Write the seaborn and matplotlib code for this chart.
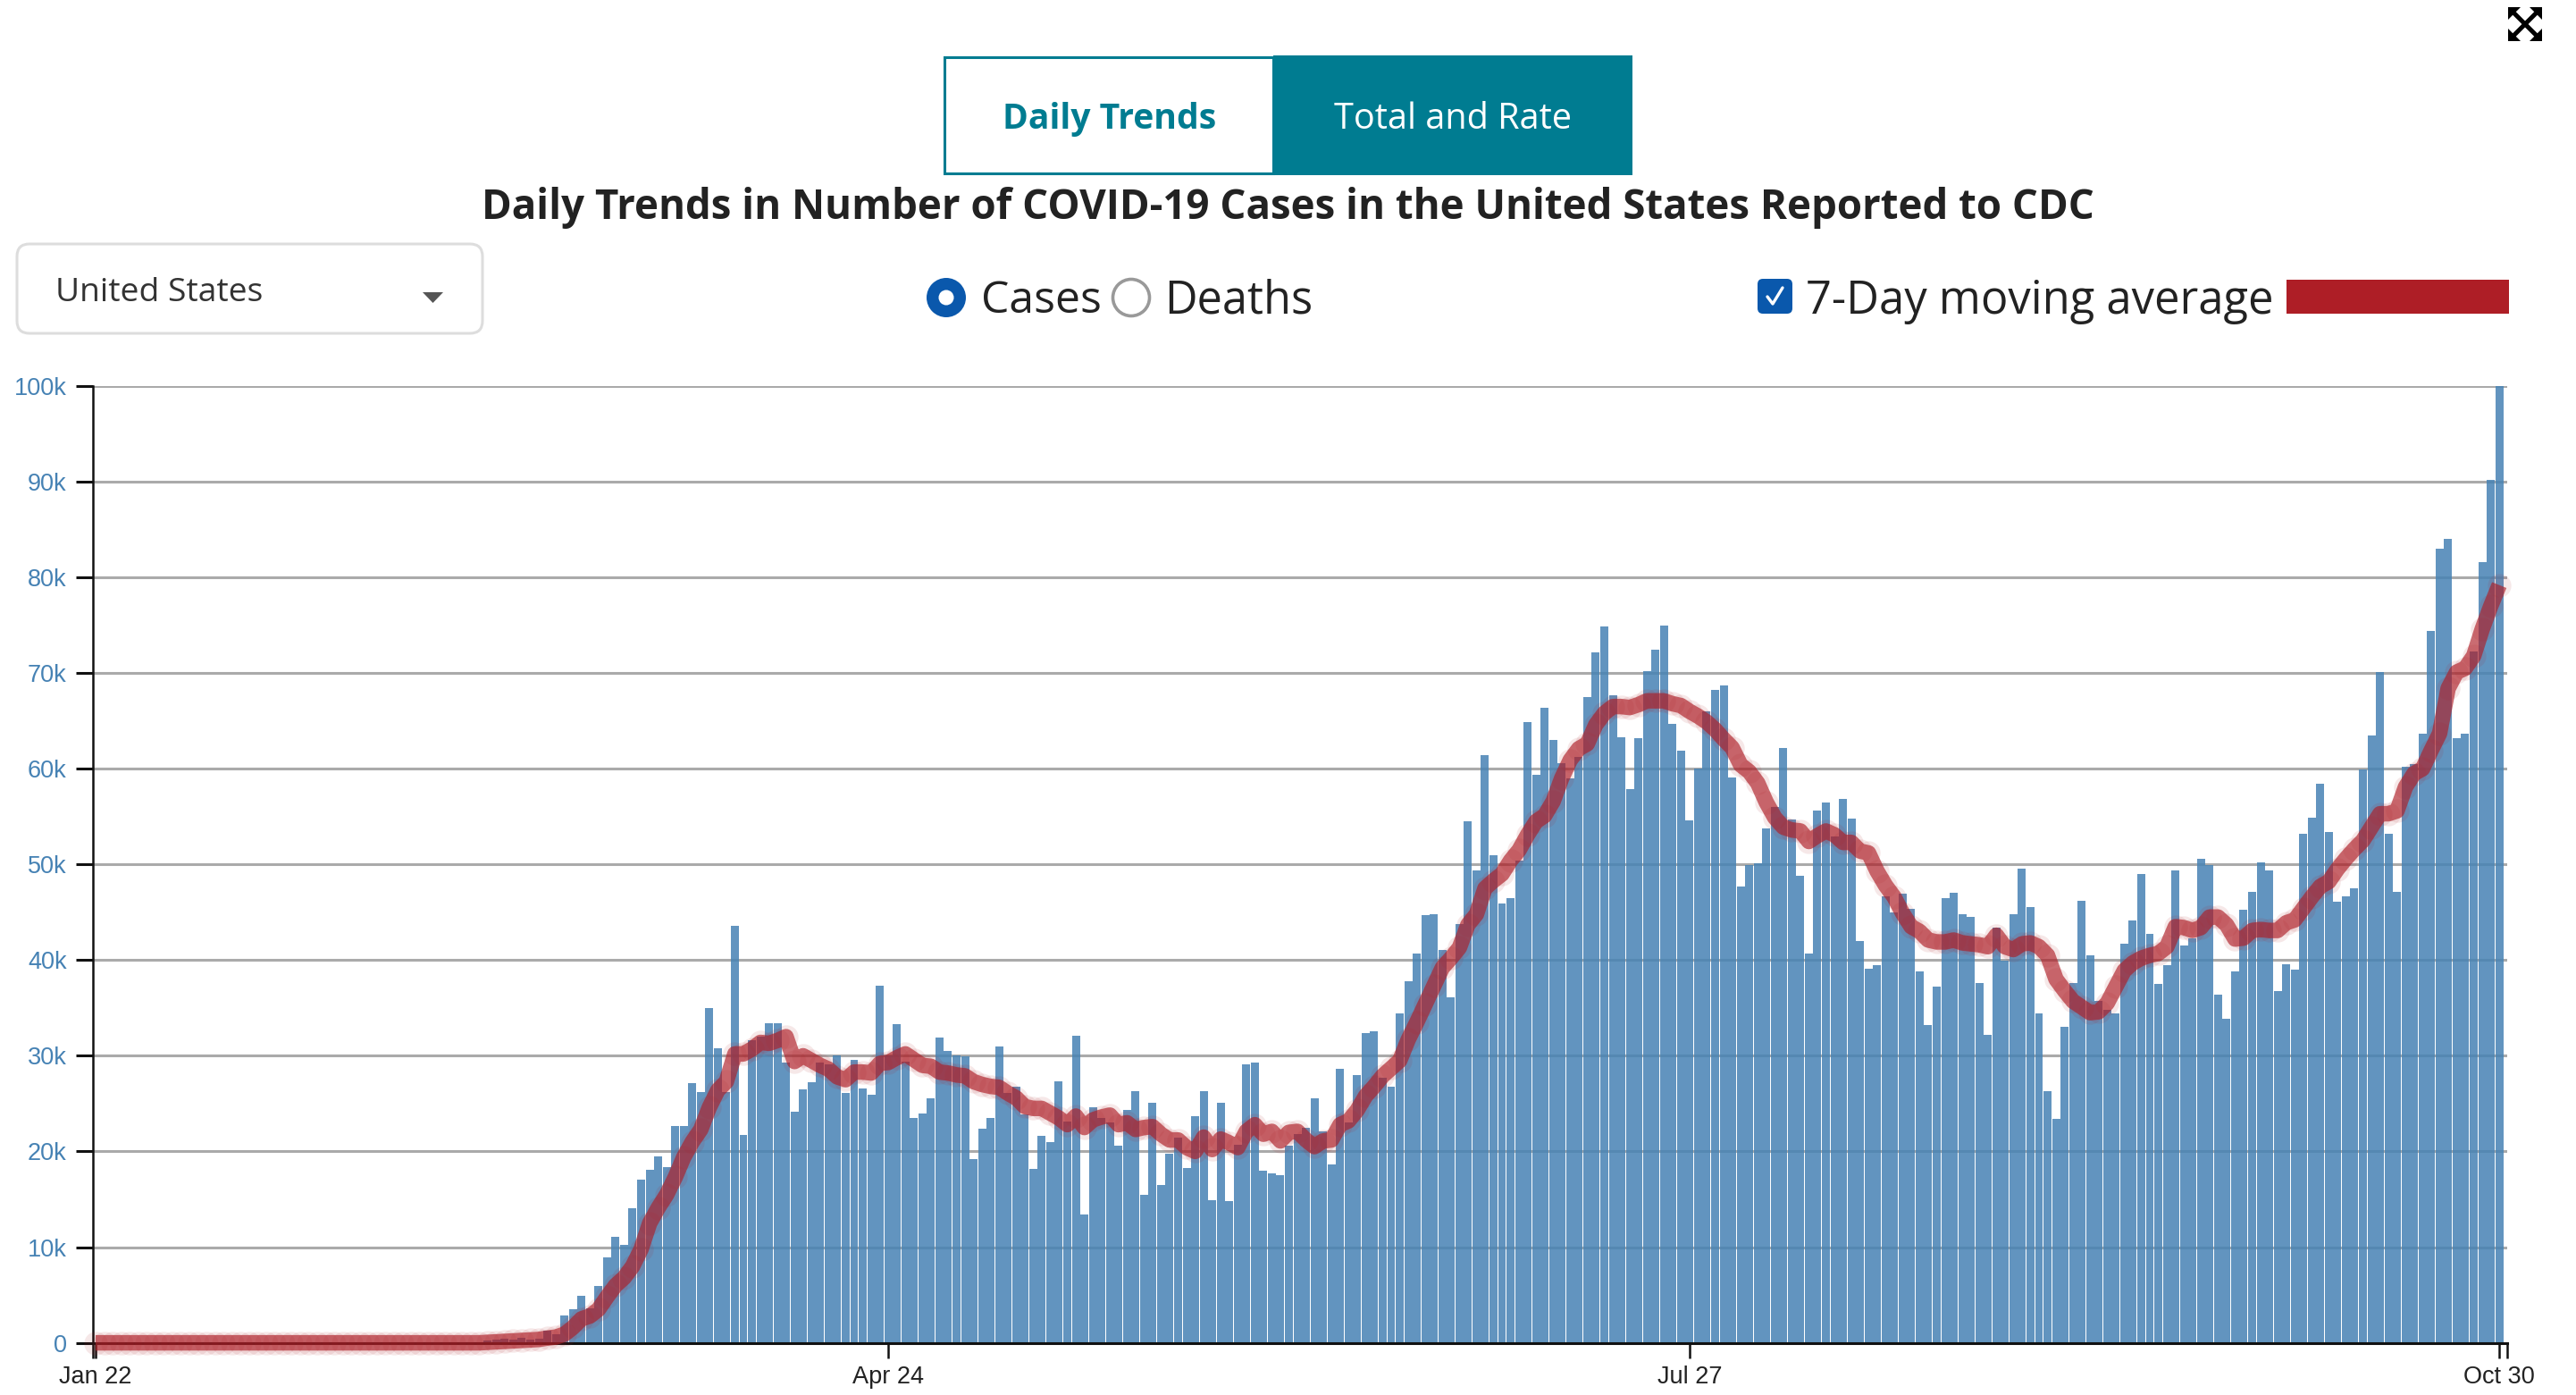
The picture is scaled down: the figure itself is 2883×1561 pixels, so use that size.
import numpy as np
import pandas as pd
import matplotlib
matplotlib.use('Agg')
import matplotlib.pyplot as plt
from matplotlib.patches import Rectangle, FancyBboxPatch, Circle, Polygon
import seaborn as sns

# Daily cases in thousands, one value per day, Jan 22 to Oct 30
cases_k = [
    0, 0, 0, 0, 0, 0, 0, 0, 0, 0,
    0, 0, 0, 0, 0, 0, 0, 0, 0, 0,
    0, 0, 0, 0, 0, 0, 0, 0, 0, 0,
    0, 0, 0, 0, 0, 0, 0, 0, 0, 0,
    0, 0, 0, 0, 0, 0, 0.2, 0.3, 0.4, 0.3,
    0.5, 0.3, 0.4, 1.3, 0.9, 2.9, 3.5, 4.9, 3.6, 5.9,
    8.9, 11.1, 10.2, 14.05, 17.05, 18.1, 19.5, 18.4, 22.7, 22.7,
    27.1, 26.2, 35.0, 30.8, 26.2, 43.6, 21.7, 31.6, 32.0, 33.4,
    33.4, 29.3, 24.2, 26.5, 27.2, 29.3, 29.1, 30.0, 26.1, 29.6,
    26.6, 25.9, 37.3, 30.0, 33.3, 29.4, 23.5, 24.0, 25.6, 31.9,
    30.5, 30.0, 29.9, 19.2, 22.4, 23.5, 31.0, 26.1, 26.8, 23.9,
    18.2, 21.6, 21.0, 27.3, 23.1, 32.1, 13.4, 24.6, 23.5, 23.0,
    20.6, 24.3, 26.3, 15.5, 25.1, 16.5, 19.8, 21.4, 18.3, 23.7,
    26.3, 14.9, 25.1, 14.8, 20.7, 29.1, 29.3, 18.0, 17.7, 17.5,
    20.6, 21.8, 22.5, 25.6, 22.1, 18.6, 28.6, 23.0, 28.0, 32.4,
    32.6, 27.7, 26.8, 34.4, 37.8, 40.7, 44.7, 44.8, 41.1, 36.1,
    43.8, 54.5, 49.4, 61.4, 51.0, 45.9, 46.5, 50.4, 64.9, 59.4,
    66.4, 63.0, 60.6, 59.0, 61.2, 67.5, 72.2, 74.9, 67.7, 63.3,
    57.9, 63.2, 70.2, 72.4, 75.0, 64.7, 61.9, 54.6, 60.0, 66.0,
    68.2, 68.7, 59.1, 47.7, 49.9, 50.1, 53.8, 56.0, 62.2, 54.7,
    48.8, 40.7, 55.6, 56.5, 52.9, 56.8, 54.8, 42.0, 39.1, 39.5,
    46.7, 45.0, 46.9, 45.4, 38.8, 33.2, 37.2, 46.5, 47.0, 44.8,
    44.5, 37.6, 32.2, 43.4, 39.9, 44.8, 49.6, 45.5, 34.4, 26.3,
    23.4, 33.0, 37.6, 46.2, 40.5, 35.7, 34.8, 34.4, 41.7, 44.1,
    49.0, 42.7, 37.5, 39.5, 49.4, 41.5, 42.3, 50.6, 49.9, 36.4,
    33.9, 38.8, 45.3, 47.1, 50.2, 49.4, 36.8, 39.6, 39.0, 53.2,
    54.9, 58.4, 53.4, 46.1, 46.7, 47.5, 59.9, 63.5, 70.1, 53.2,
    47.1, 60.2, 60.5, 63.7, 74.4, 83.0, 84.0, 63.2, 63.7, 72.3,
    81.6, 90.2, 100.0,
]

# 7-day moving average in thousands
average_k = [
    0, 0, 0, 0, 0, 0, 0, 0, 0, 0,
    0, 0, 0, 0, 0, 0, 0, 0, 0, 0,
    0, 0, 0, 0, 0, 0, 0, 0, 0, 0,
    0, 0, 0, 0, 0, 0, 0, 0, 0, 0,
    0, 0, 0, 0, 0, 0, 0.05, 0.1, 0.15, 0.2,
    0.25, 0.3, 0.35, 0.5, 0.6, 0.9, 1.6, 2.5, 2.8, 3.5,
    4.8, 6.0, 6.8, 8.0, 9.8, 12.5, 14.1, 15.5, 17.3, 19.4,
    21.0, 22.3, 24.6, 26.4, 27.3, 30.2, 30.2, 30.7, 31.4, 31.3,
    31.6, 32.0, 29.4, 30.0, 29.5, 29.0, 28.6, 27.8, 27.5, 28.3,
    28.3, 28.2, 29.2, 29.3, 29.8, 30.2, 29.6, 29.0, 28.9, 28.3,
    28.2, 28.0, 27.9, 27.3, 27.0, 26.8, 26.7, 26.1, 25.6, 24.7,
    24.5, 24.5, 24.0, 23.5, 22.8, 23.7, 22.5, 23.3, 23.6, 23.8,
    22.8, 23.0, 22.3, 22.5, 22.6, 21.8, 21.2, 21.2, 20.4, 20.0,
    21.5, 20.2, 21.3, 20.9, 20.4, 22.1, 22.8, 21.8, 22.1, 21.1,
    22.0, 22.1, 21.2, 20.5, 21.1, 21.2, 22.8, 23.2, 24.3, 25.8,
    26.8, 27.9, 28.7, 29.5, 31.7, 33.5, 35.4, 37.3, 39.2, 40.2,
    41.3, 43.7, 44.8, 47.5, 48.3, 49.0, 50.4, 51.5, 53.1, 54.5,
    55.1, 56.6, 59.0, 60.9, 62.1, 62.6, 64.6, 65.8, 66.5, 66.5,
    66.4, 66.7, 67.1, 67.1, 67.1, 66.8, 66.6, 66.0, 65.5, 64.9,
    64.1, 63.1, 62.2, 60.4, 59.7, 58.5, 56.5, 54.9, 53.9, 53.6,
    53.5, 52.4, 53.0, 53.5, 53.1, 52.3, 52.3, 51.4, 51.2, 49.3,
    47.8, 46.6, 44.9, 43.5, 43.0, 42.1, 41.9, 41.9, 42.1, 41.8,
    41.7, 41.6, 41.4, 42.6, 41.4, 41.1, 41.7, 41.8, 41.4, 40.5,
    38.0, 36.8, 35.7, 35.1, 34.5, 34.6, 35.5, 37.2, 38.9, 39.7,
    40.2, 40.5, 40.7, 41.4, 43.5, 43.4, 43.1, 43.4, 44.5, 44.5,
    43.7, 42.2, 42.3, 43.1, 43.2, 43.1, 43.1, 43.9, 44.2, 45.4,
    46.6, 47.7, 48.2, 49.5, 50.6, 51.6, 52.5, 53.9, 55.3, 55.3,
    55.6, 58.1, 59.5, 60.0, 61.9, 63.7, 68.4, 70.1, 70.5, 71.8,
    74.6, 77.0, 79.2,
]

y_ticks_k = [0, 10, 20, 30, 40, 50, 60, 70, 80, 90, 100]
y_tick_labels = ['0', '10k', '20k', '30k', '40k', '50k', '60k', '70k', '80k', '90k', '100k']
x_tick_days = [0, 93, 187, 282]
x_tick_labels = ['Jan 22', 'Apr 24', 'Jul 27', 'Oct 30']

df = pd.DataFrame({'day': np.arange(len(cases_k)), 'cases': cases_k, 'average': average_k})

W, H = 2883, 1561
TEAL = '#007c91'
RED = '#ae1e26'
BLUE = '#0a58ac'

sns.set_theme(style='white')
plt.rcParams['font.family'] = ['Open Sans', 'DejaVu Sans']

fig = plt.figure(figsize=(W / 100, H / 100), dpi=100)
ax = fig.add_axes([103.6 / W, 1 - 1502.6 / H, (2806 - 103.6) / W, (1502.6 - 432) / H])

sns.barplot(data=df, x='day', y='cases', native_scale=True, color='steelblue', saturation=1,
            alpha=0.85, width=0.94, linewidth=0, ax=ax)
sns.scatterplot(data=df, x='day', y='average', color=RED, alpha=0.1, s=360, linewidth=0,
                clip_on=False, zorder=4, ax=ax)
sns.lineplot(data=df, x='day', y='average', color=RED, alpha=0.65, linewidth=12.5,
             solid_capstyle='butt', solid_joinstyle='round', estimator=None, errorbar=None,
             clip_on=False, zorder=5, ax=ax)

x_min, x_max = -0.356, 282.93
ax.set_xlim(x_min, x_max)
ax.set_ylim(0, 100)
ax.set_xlabel('')
ax.set_ylabel('')
ax.set_xticks(x_tick_days)
ax.set_xticklabels(x_tick_labels, family='Liberation Sans', fontsize=19.5, color='#222222')
ax.set_xticks([x_min, x_max], minor=True)
ax.set_yticks(y_ticks_k)
ax.set_yticklabels(y_tick_labels, family='Liberation Sans', fontsize=19.5, color='steelblue')
ax.tick_params(axis='x', which='both', bottom=True, length=12, width=1.8, color='#111111', pad=6)
ax.tick_params(axis='y', left=True, length=13.7, width=2.2, color='#111111', pad=7)
ax.yaxis.grid(True, color='#aaaaaa', linewidth=2.2)
ax.xaxis.grid(False)
ax.set_axisbelow(True)
sns.despine(ax=ax, top=True, right=True)
ax.spines['left'].set_linewidth(1.8)
ax.spines['left'].set_color('#111111')
ax.spines['bottom'].set_linewidth(2.2)
ax.spines['bottom'].set_color('#111111')

# Page controls around the chart, placed in pixels
ui = fig.add_axes([0, 0, 1, 1], zorder=-1)
ui.set_xlim(0, W)
ui.set_ylim(H, 0)
ui.axis('off')

ui.add_patch(Rectangle((1425, 62), 402, 133.5, facecolor=TEAL, edgecolor='none'))
ui.add_patch(Rectangle((1056.5, 63.5), 368, 130.5, facecolor='white', edgecolor=TEAL, linewidth=2.2))
ui.text(1242, 133, 'Daily Trends', color=TEAL, fontsize=28.2, fontweight='bold', ha='center', va='center')
ui.text(1626, 134, 'Total and Rate', color='white', fontsize=28.5, ha='center', va='center')
ui.text(1441, 232, 'Daily Trends in Number of COVID-19 Cases in the United States Reported to CDC',
        color='#222222', fontsize=32.9, fontweight='bold', ha='center', va='center')

ui.add_patch(FancyBboxPatch((29, 283), 501, 80, boxstyle='round,pad=10,rounding_size=14',
                            facecolor='white', edgecolor='#dddddd', linewidth=2.2))
ui.text(62, 328, 'United States', color='#333333', fontsize=26.8, ha='left', va='center')
ui.add_patch(Polygon([[473, 327], [496, 327], [484.5, 339]], closed=True, facecolor='#555555', edgecolor='none'))

ui.add_patch(Circle((1059, 333), 22, facecolor=BLUE, edgecolor='none'))
ui.add_patch(Circle((1059, 333), 8.5, facecolor='white', edgecolor='none'))
ui.text(1098, 337, 'Cases', color='#222222', fontsize=36, ha='left', va='center')
ui.add_patch(Circle((1266, 333), 20.5, facecolor='white', edgecolor='#999999', linewidth=2.6))
ui.text(1303, 337, 'Deaths', color='#222222', fontsize=36.4, ha='left', va='center')

ui.add_patch(FancyBboxPatch((1973, 318), 27, 27, boxstyle='round,pad=6,rounding_size=6', facecolor=BLUE, edgecolor='none'))
ui.plot([1978, 1984, 1995], [332, 340, 322], color='white', linewidth=2.4)
ui.text(2021, 337, '7-Day moving average', color='#222222', fontsize=36.5, ha='left', va='center')
ui.add_patch(Rectangle((2559, 313), 249, 38, facecolor=RED, edgecolor='none'))

# Expand icon, top right corner
ui.plot([2812, 2840], [13, 41], color='black', linewidth=3.6)
ui.plot([2840, 2812], [13, 41], color='black', linewidth=3.6)
for cx, cy, sx, sy in [(2807, 8, 1, 1), (2845, 8, -1, 1), (2807, 46, 1, -1), (2845, 46, -1, -1)]:
    ui.add_patch(Polygon([[cx, cy], [cx + sx * 14, cy], [cx, cy + sy * 14]], closed=True, facecolor='black', edgecolor='none'))

fig.savefig('out.png', dpi=100)
plt.close(fig)
